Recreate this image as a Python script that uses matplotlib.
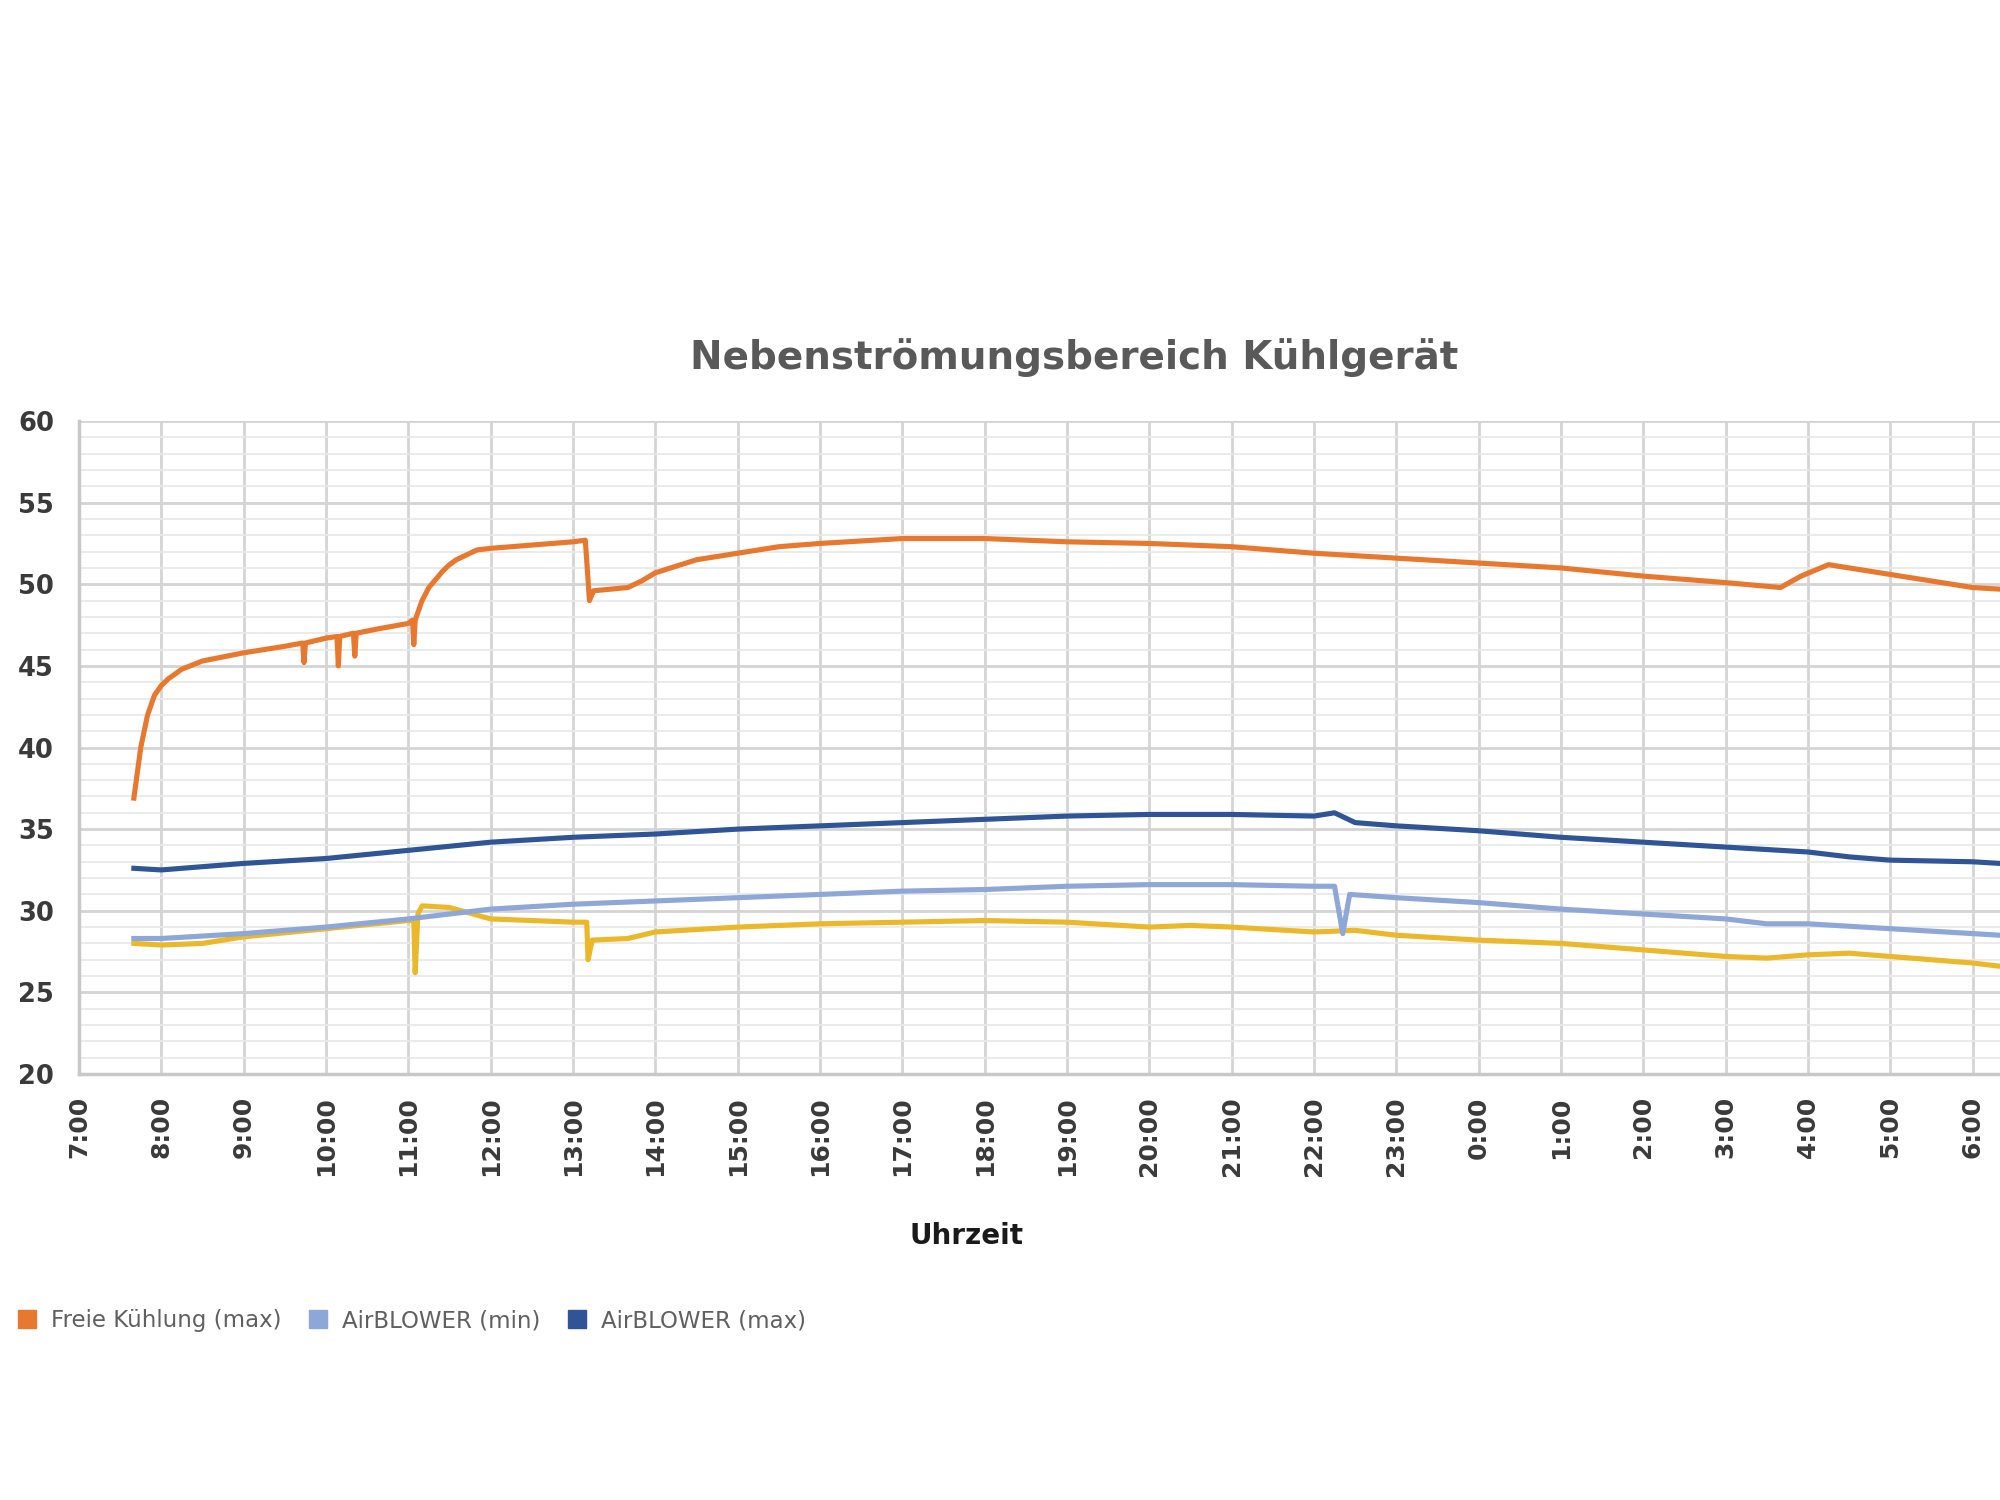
import matplotlib
matplotlib.use("Agg")
import matplotlib.pyplot as plt
from matplotlib.lines import Line2D
from matplotlib.ticker import MultipleLocator

# x tick labels (hourly, night wraps past midnight)
hour_labels = [f"{h % 24}:00" for h in range(7, 7 + 24)]

# Freie Kühlung (max) - orange
fk_max_t = ["7:40", "7:45", "7:50", "7:55", "8:00", "8:05", "8:10", "8:15", "8:30", "9:00", "9:30",
            "9:43", "9:44", "9:45", "10:00", "10:08", "10:09", "10:10", "10:20", "10:21", "10:22",
            "10:40", "11:00", "11:03", "11:04", "11:05", "11:10", "11:15", "11:20", "11:25", "11:30",
            "11:35", "11:45", "11:50", "12:00", "12:30", "13:00", "13:09", "13:12", "13:15", "13:40",
            "13:50", "14:00", "14:15", "14:30", "15:00", "15:30", "16:00", "17:00", "18:00", "19:00",
            "20:00", "21:00", "22:00", "23:00", "0:00", "1:00", "2:00", "3:00", "3:40", "3:55",
            "4:15", "4:30", "5:00", "5:30", "6:00", "6:20"]
fk_max_v = [36.9, 40.0, 42.0, 43.2, 43.8, 44.2, 44.5, 44.8, 45.3, 45.8, 46.2,
            46.4, 45.2, 46.4, 46.7, 46.8, 45.0, 46.8, 47.0, 45.6, 47.0,
            47.3, 47.6, 47.8, 46.3, 47.8, 49.0, 49.8, 50.3, 50.8, 51.2,
            51.5, 51.9, 52.1, 52.2, 52.4, 52.6, 52.7, 49.0, 49.6, 49.8,
            50.2, 50.7, 51.1, 51.5, 51.9, 52.3, 52.5, 52.8, 52.8, 52.6,
            52.5, 52.3, 51.9, 51.6, 51.3, 51.0, 50.5, 50.1, 49.8, 50.5,
            51.2, 51.0, 50.6, 50.2, 49.8, 49.7]

# Freie Kühlung (min) - yellow (not listed in the visible legend)
fk_min_t = ["7:40", "8:00", "8:30", "9:00", "10:00", "11:00", "11:04", "11:05", "11:07", "11:10",
            "11:30", "12:00", "13:00", "13:10", "13:11", "13:14", "13:40", "14:00", "15:00",
            "16:00", "17:00", "18:00", "19:00", "20:00", "20:30", "21:00", "22:00", "22:30",
            "23:00", "0:00", "1:00", "2:00", "3:00", "3:30", "4:00", "4:30", "5:00", "6:00", "6:20"]
fk_min_v = [28.0, 27.9, 28.0, 28.4, 28.9, 29.4, 29.4, 26.2, 29.8, 30.3,
            30.2, 29.5, 29.3, 29.3, 27.0, 28.2, 28.3, 28.7, 29.0,
            29.2, 29.3, 29.4, 29.3, 29.0, 29.1, 29.0, 28.7, 28.8,
            28.5, 28.2, 28.0, 27.6, 27.2, 27.1, 27.3, 27.4, 27.2, 26.8, 26.6]

# AirBLOWER (min) - light blue
ab_min_t = ["7:40", "8:00", "9:00", "10:00", "11:00", "11:30", "12:00", "13:00", "14:00", "15:00",
            "16:00", "17:00", "18:00", "19:00", "20:00", "21:00", "22:00", "22:15", "22:21",
            "22:26", "23:00", "0:00", "1:00", "2:00", "3:00", "3:30", "4:00", "5:00", "6:00", "6:20"]
ab_min_v = [28.3, 28.3, 28.6, 29.0, 29.5, 29.8, 30.1, 30.4, 30.6, 30.8,
            31.0, 31.2, 31.3, 31.5, 31.6, 31.6, 31.5, 31.5, 28.6,
            31.0, 30.8, 30.5, 30.1, 29.8, 29.5, 29.2, 29.2, 28.9, 28.6, 28.5]

# AirBLOWER (max) - dark blue
ab_max_t = ["7:40", "8:00", "9:00", "10:00", "11:00", "12:00", "13:00", "14:00", "15:00", "16:00",
            "17:00", "18:00", "19:00", "20:00", "21:00", "22:00", "22:15", "22:30", "23:00",
            "0:00", "1:00", "2:00", "3:00", "4:00", "4:30", "5:00", "6:00", "6:20"]
ab_max_v = [32.6, 32.5, 32.9, 33.2, 33.7, 34.2, 34.5, 34.7, 35.0, 35.2,
            35.4, 35.6, 35.8, 35.9, 35.9, 35.8, 36.0, 35.4, 35.2,
            34.9, 34.5, 34.2, 33.9, 33.6, 33.3, 33.1, 33.0, 32.9]


def to_hours(t):
    # hours elapsed since 7:00, wrapping after midnight
    h, m = map(int, t.split(":"))
    if h < 7:
        h += 24
    return h - 7 + m / 60


C_ORANGE = "#E9782F"
C_YELLOW = "#EBB82A"
C_LIGHT = "#8DA7D8"
C_DARK = "#2F5597"

fig = plt.figure(figsize=(20, 15), dpi=100)
# axes run off the right edge like the cropped original
ax = fig.add_axes([79 / 2000, 1 - 1074 / 1500, 1 - 79 / 2000, 653 / 1500])

lw = 3.7
ax.plot([to_hours(t) for t in fk_min_t], fk_min_v, color=C_YELLOW, lw=lw, zorder=3)
ax.plot([to_hours(t) for t in ab_min_t], ab_min_v, color=C_LIGHT, lw=lw, zorder=4)
ax.plot([to_hours(t) for t in ab_max_t], ab_max_v, color=C_DARK, lw=lw, zorder=4)
ax.plot([to_hours(t) for t in fk_max_t], fk_max_v, color=C_ORANGE, lw=lw, zorder=4)

ax.set_xlim(0, (2000 - 79) / 82.33)
ax.set_ylim(20, 60)
ax.set_xticks(range(24))
ax.set_xticklabels(hour_labels, rotation=90, va="top", ha="center")
ax.yaxis.set_major_locator(MultipleLocator(5))
ax.yaxis.set_minor_locator(MultipleLocator(1))
ax.tick_params(axis="both", length=0, which="both", colors="#3A3A3A")
ax.tick_params(axis="x", labelsize=18, pad=16)
ax.tick_params(axis="y", labelsize=18.5, pad=18)
for lab in ax.get_xticklabels() + ax.get_yticklabels():
    lab.set_fontweight("bold")

ax.grid(True, which="major", axis="both", color="#D4D4D4", lw=2.0, zorder=0)
ax.grid(True, which="minor", axis="y", color="#E9E9E9", lw=1.3, zorder=0)
ax.set_axisbelow(True)
for s in ["top", "right"]:
    ax.spines[s].set_visible(False)
for s in ["left", "bottom"]:
    ax.spines[s].set_color("#C8C8C8")
    ax.spines[s].set_linewidth(2.5)

fig.text(1074 / 2000, 1 - 358 / 1500, "Nebenströmungsbereich Kühlgerät",
         ha="center", va="center", fontsize=28, weight="bold", color="#595959")
fig.text(966 / 2000, 1 - 1236 / 1500, "Uhrzeit", ha="center", va="center",
         fontsize=20, weight="bold", color="#1A1A1A")

handles = [Line2D([0], [0], marker="s", ls="", ms=13, mfc=c, mec=c)
           for c in (C_ORANGE, C_LIGHT, C_DARK)]
labels = ["Freie Kühlung (max)", "AirBLOWER (min)", "AirBLOWER (max)"]
fig.legend(handles, labels, loc="center left", bbox_to_anchor=(-0.006, 1 - 1321 / 1500),
           ncol=3, frameon=False, fontsize=16.5, labelcolor="#606060",
           handletextpad=0.05, columnspacing=0.6, borderpad=0.2)

fig.savefig("out.png", dpi=100)
